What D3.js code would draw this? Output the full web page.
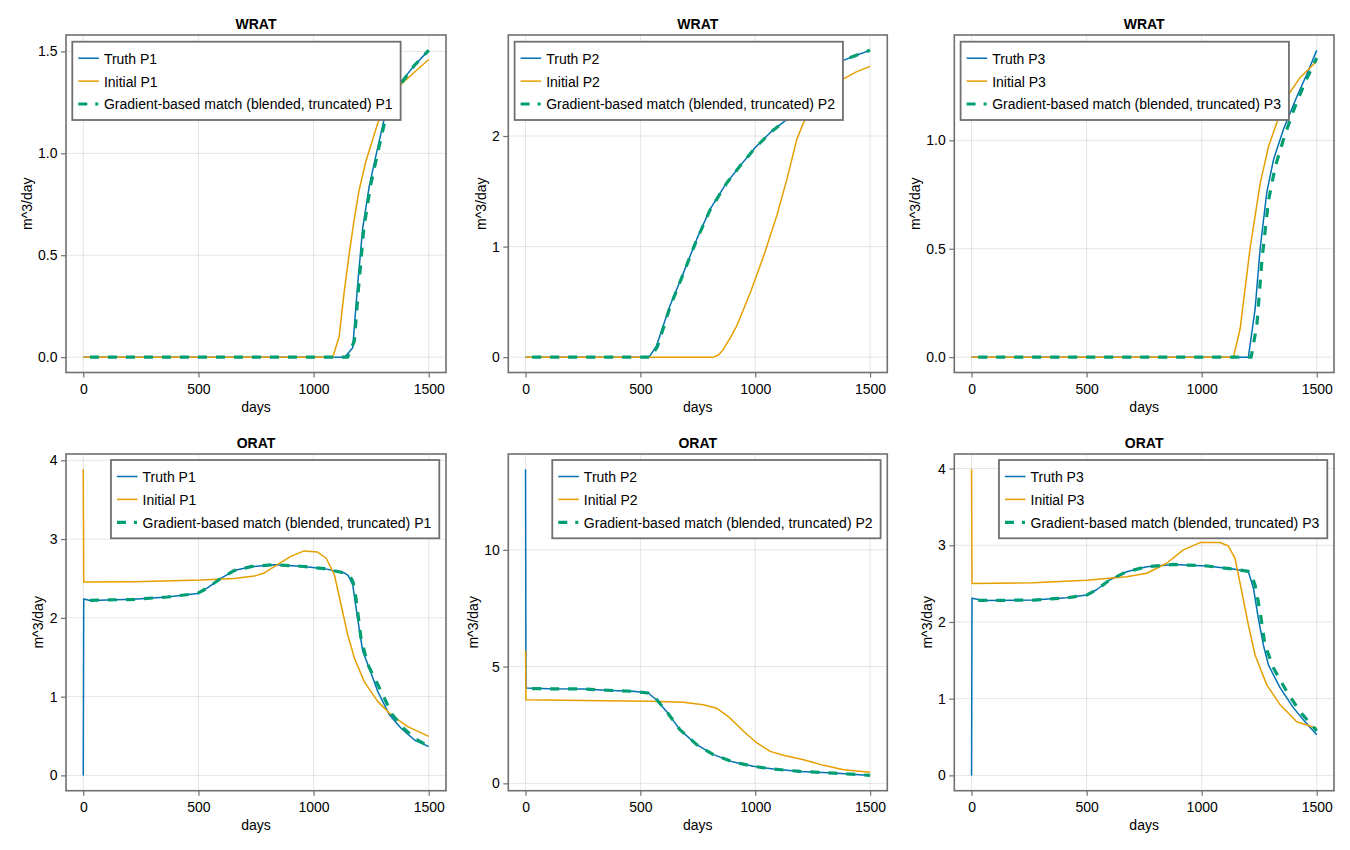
<!DOCTYPE html>
<html>
<head>
<meta charset="utf-8">
<script src="https://cdn.jsdelivr.net/npm/d3@7"></script>
<style>
  body { margin: 0; background: #fff; }
  text { font-family: "Liberation Sans", Arial, Helvetica, sans-serif; fill: #000; }
</style>
</head>
<body>
<script>
// [day, value] pairs
var wratTruthP1 = [[0,0],[1135,0],[1170,0.046],[1191,0.35],[1213,0.63],[1242,0.84],[1271,0.99],[1307,1.17],[1365,1.33],[1437,1.43],[1500,1.505]];
var wratInitP1  = [[0,0],[1083,0],[1111,0.1],[1133,0.32],[1155,0.51],[1177,0.68],[1198,0.82],[1227,0.96],[1256,1.065],[1285,1.17],[1330,1.26],[1372,1.33],[1440,1.4],[1500,1.46]];
var wratGradP1  = [[5,0],[1148,0],[1177,0.08],[1196,0.35],[1218,0.63],[1247,0.84],[1276,0.99],[1312,1.17],[1365,1.32],[1437,1.43],[1500,1.505]];

var wratTruthP2 = [[0,0],[538,0],[570,0.1],[628,0.46],[687,0.76],[745,1.065],[803,1.336],[876,1.578],[934,1.73],[999,1.894],[1065,2.03],[1138,2.15],[1200,2.29],[1260,2.42],[1320,2.56],[1378,2.68],[1440,2.73],[1500,2.775]];
var wratInitP2  = [[0,0],[818,0],[840,0.02],[861,0.07],[890,0.17],[919,0.28],[978,0.58],[1036,0.91],[1094,1.28],[1138,1.61],[1181,1.97],[1210,2.12],[1250,2.26],[1310,2.39],[1378,2.51],[1440,2.58],[1500,2.63]];
var wratGradP2  = [[5,0],[545,0],[575,0.1],[630,0.46],[688,0.76],[745,1.06],[803,1.33],[876,1.575],[934,1.73],[999,1.89],[1065,2.03],[1138,2.15],[1200,2.29],[1260,2.42],[1320,2.56],[1378,2.68],[1440,2.73],[1500,2.775]];

var wratTruthP3 = [[0,0],[1203,0],[1232,0.22],[1254,0.5],[1283,0.76],[1312,0.91],[1355,1.05],[1413,1.2],[1457,1.305],[1500,1.415]];
var wratInitP3  = [[0,0],[1138,0],[1167,0.13],[1210,0.5],[1254,0.8],[1290,0.97],[1326,1.08],[1370,1.2],[1428,1.29],[1500,1.365]];
var wratGradP3  = [[5,0],[1215,0],[1240,0.15],[1262,0.45],[1290,0.72],[1320,0.88],[1360,1.02],[1400,1.14],[1450,1.27],[1500,1.38]];

var oratTruthP1 = [[0,0],[2,2.24],[30,2.22],[220,2.235],[365,2.265],[496,2.31],[539,2.38],[597,2.5],[655,2.6],[728,2.65],[829,2.675],[945,2.655],[1046,2.625],[1133,2.57],[1150,2.54],[1170,2.42],[1191,2.0],[1213,1.58],[1242,1.36],[1278,1.07],[1329,0.77],[1380,0.6],[1438,0.45],[1500,0.365]];
var oratInitP1  = [[0,3.886],[2,2.455],[220,2.46],[510,2.48],[655,2.5],[742,2.53],[786,2.57],[843,2.675],[901,2.78],[959,2.85],[1017,2.835],[1054,2.76],[1090,2.55],[1119,2.17],[1148,1.79],[1177,1.49],[1220,1.19],[1278,0.94],[1336,0.77],[1409,0.62],[1500,0.495]];
var oratGradP1  = [[5,2.22],[220,2.235],[365,2.265],[496,2.31],[539,2.38],[597,2.5],[655,2.6],[728,2.65],[829,2.675],[945,2.655],[1046,2.625],[1133,2.57],[1160,2.52],[1172,2.45],[1184,2.25],[1206,1.74],[1235,1.41],[1293,1.07],[1340,0.78],[1390,0.6],[1445,0.46],[1500,0.37]];

var oratTruthP2 = [[0,13.45],[2,4.08],[105,4.05],[250,4.04],[396,3.97],[468,3.94],[534,3.87],[570,3.58],[614,3.08],[672,2.3],[745,1.655],[818,1.23],[905,0.91],[992,0.73],[1079,0.61],[1196,0.51],[1341,0.44],[1500,0.34]];
var oratInitP2  = [[0,5.68],[2,3.58],[250,3.55],[541,3.52],[687,3.47],[774,3.37],[832,3.22],[890,2.8],[949,2.23],[1007,1.73],[1065,1.37],[1123,1.2],[1210,1.01],[1298,0.77],[1385,0.585],[1500,0.47]];
var oratGradP2  = [[5,4.06],[105,4.05],[250,4.04],[396,3.97],[468,3.94],[534,3.87],[570,3.6],[614,3.08],[672,2.3],[745,1.66],[818,1.23],[905,0.91],[992,0.73],[1079,0.61],[1196,0.51],[1341,0.44],[1500,0.34]];

var oratTruthP3 = [[0,0],[2,2.31],[51,2.28],[268,2.285],[413,2.315],[500,2.35],[543,2.42],[601,2.55],[674,2.655],[761,2.72],[877,2.75],[1022,2.73],[1138,2.69],[1203,2.655],[1225,2.44],[1246,2.05],[1268,1.7],[1290,1.44],[1341,1.14],[1399,0.88],[1449,0.7],[1500,0.53]];
var oratInitP3  = [[0,3.99],[2,2.5],[268,2.51],[500,2.545],[674,2.59],[761,2.635],[848,2.765],[920,2.94],[993,3.035],[1080,3.035],[1116,2.99],[1145,2.83],[1174,2.4],[1203,1.96],[1232,1.57],[1283,1.18],[1341,0.92],[1413,0.7],[1500,0.615]];
var oratGradP3  = [[5,2.28],[268,2.285],[413,2.315],[500,2.35],[543,2.42],[601,2.55],[674,2.655],[761,2.72],[877,2.75],[1022,2.73],[1138,2.69],[1203,2.66],[1215,2.62],[1232,2.48],[1254,2.13],[1275,1.7],[1312,1.4],[1370,1.09],[1428,0.83],[1500,0.58]];

var xTicks = [0, 500, 1000, 1500];
var yTicksWrat = [[0, 0.5, 1.0, 1.5], [0, 1, 2], [0, 0.5, 1.0]];
var yTicksOrat = [[0, 1, 2, 3, 4], [0, 5, 10], [0, 1, 2, 3, 4]];
var wells = ["P1", "P2", "P3"];
var seriesNames = ["Truth", "Initial", "Gradient-based match (blended, truncated)"];

var colors = ["#0072B2", "#E69F00", "#009E73"];
var colLeft = [66, 508.3, 954.3], colRight = [446, 887.3, 1334];
var rowTop = [35, 454], rowBottom = [372.5, 790.7];

var panels = [
    { title: "WRAT", row: 0, col: 0, series: [wratTruthP1, wratInitP1, wratGradP1], yTicks: yTicksWrat[0] },
    { title: "WRAT", row: 0, col: 1, series: [wratTruthP2, wratInitP2, wratGradP2], yTicks: yTicksWrat[1] },
    { title: "WRAT", row: 0, col: 2, series: [wratTruthP3, wratInitP3, wratGradP3], yTicks: yTicksWrat[2] },
    { title: "ORAT", row: 1, col: 0, series: [oratTruthP1, oratInitP1, oratGradP1], yTicks: yTicksOrat[0] },
    { title: "ORAT", row: 1, col: 1, series: [oratTruthP2, oratInitP2, oratGradP2], yTicks: yTicksOrat[1] },
    { title: "ORAT", row: 1, col: 2, series: [oratTruthP3, oratInitP3, oratGradP3], yTicks: yTicksOrat[2] }
];

var svg = d3.select("body").append("svg").attr("width", 1350).attr("height", 850);

function padded(ext) {
    var p = (ext[1] - ext[0]) * 0.05;
    return [ext[0] - p, ext[1] + p];
}

panels.forEach(function (p, i) {
    var L = colLeft[p.col], R = colRight[p.col], T = rowTop[p.row], B = rowBottom[p.row];
    var well = wells[p.col];

    var allDays = [], allVals = [];
    p.series.forEach(function (s) { s.forEach(function (d) { allDays.push(d[0]); allVals.push(d[1]); }); });

    var x = d3.scaleLinear().domain(padded(d3.extent(allDays))).range([L, R]);
    var y = d3.scaleLinear().domain(padded(d3.extent(allVals))).range([B, T]);

    var g = svg.append("g");

    // grid
    g.append("g").selectAll("line").data(xTicks).enter().append("line")
        .attr("x1", function (d) { return x(d); }).attr("x2", function (d) { return x(d); })
        .attr("y1", T).attr("y2", B)
        .attr("stroke", "#000").attr("stroke-opacity", 0.1).attr("stroke-width", 1);
    g.append("g").selectAll("line").data(p.yTicks).enter().append("line")
        .attr("y1", function (d) { return y(d); }).attr("y2", function (d) { return y(d); })
        .attr("x1", L).attr("x2", R)
        .attr("stroke", "#000").attr("stroke-opacity", 0.1).attr("stroke-width", 1);

    // lines
    var clipId = "clip" + i;
    svg.append("clipPath").attr("id", clipId).append("rect")
        .attr("x", L).attr("y", T).attr("width", R - L).attr("height", B - T);

    var line = d3.line().x(function (d) { return x(d[0]); }).y(function (d) { return y(d[1]); });
    var lg = g.append("g").attr("clip-path", "url(#" + clipId + ")");
    p.series.forEach(function (s, k) {
        var path = lg.append("path").datum(s)
            .attr("d", line)
            .attr("fill", "none")
            .attr("stroke", colors[k])
            .attr("stroke-width", k === 2 ? 3.2 : 1.5)
            .attr("stroke-linejoin", "round");
        if (k === 2) path.attr("stroke-dasharray", "9,9").attr("stroke-dashoffset", 12.5);
    });

    // frame
    g.append("rect").attr("x", L).attr("y", T).attr("width", R - L).attr("height", B - T)
        .attr("fill", "none").attr("stroke", "#707070").attr("stroke-width", 1.6);

    // axes
    var fmt = p.yTicks.some(function (t) { return t % 1 !== 0; }) ? d3.format(".1f") : d3.format("d");
    var xAxis = d3.axisBottom(x).tickValues(xTicks).tickSize(5).tickPadding(6.5).tickFormat(d3.format("d"));
    var yAxis = d3.axisLeft(y).tickValues(p.yTicks).tickSize(5).tickPadding(3.5).tickFormat(fmt);

    var gx = g.append("g").attr("transform", "translate(0," + B + ")").call(xAxis);
    var gy = g.append("g").attr("transform", "translate(" + L + ",0)").call(yAxis);
    [gx, gy].forEach(function (a) {
        a.select(".domain").remove();
        a.selectAll(".tick line").attr("stroke", "#707070").attr("stroke-width", 1.2);
        a.selectAll(".tick text").attr("font-size", 14).attr("font-family", null).attr("fill", "#000");
    });

    var maxW = 0;
    gy.selectAll(".tick text").each(function () { maxW = Math.max(maxW, this.getComputedTextLength()); });

    // titles and labels
    g.append("text").attr("x", (L + R) / 2).attr("y", T - 5.8)
        .attr("text-anchor", "middle").attr("font-size", 14).attr("font-weight", "bold").text(p.title);
    g.append("text").attr("x", (L + R) / 2).attr("y", B + 39.5)
        .attr("text-anchor", "middle").attr("font-size", 14).text("days");
    var yl = L - 5 - 3.5 - maxW - 6.5;
    g.append("text").attr("transform", "translate(" + yl + "," + ((T + B) / 2) + ") rotate(-90)")
        .attr("text-anchor", "middle").attr("font-size", 14).text("m^3/day");

    // legend
    var leg = g.append("g");
    var box = leg.append("rect").attr("fill", "#fff").attr("stroke", "#707070").attr("stroke-width", 1.8);
    var textW = 0;
    var labels = seriesNames.map(function (n) { return n + " " + well; });
    var items = leg.selectAll("g.item").data(labels).enter().append("g").attr("class", "item");
    items.append("text").attr("x", 31.6).attr("y", function (d, k) { return 22 + k * 22.9; })
        .attr("font-size", 14).text(function (d) { return d; })
        .each(function () { textW = Math.max(textW, this.getComputedTextLength()); });
    items.append("line")
        .attr("x1", 6).attr("x2", 26.6)
        .attr("y1", function (d, k) { return 16.5 + k * 22.9; })
        .attr("y2", function (d, k) { return 16.5 + k * 22.9; })
        .attr("stroke", function (d, k) { return colors[k]; })
        .attr("stroke-width", function (d, k) { return k === 2 ? 3.2 : 1.5; })
        .attr("stroke-dasharray", function (d, k) { return k === 2 ? "9,8,3,20" : null; });
    var bw = 31.6 + textW + 8, bh = 78.3;
    box.attr("width", bw).attr("height", bh);
    var lx = p.row === 0 ? L + 6.3 : R - 6.7 - bw;
    var ly = p.row === 0 ? T + 6.7 : T + 6;
    leg.attr("transform", "translate(" + lx + "," + ly + ")");
});
</script>
</body>
</html>
